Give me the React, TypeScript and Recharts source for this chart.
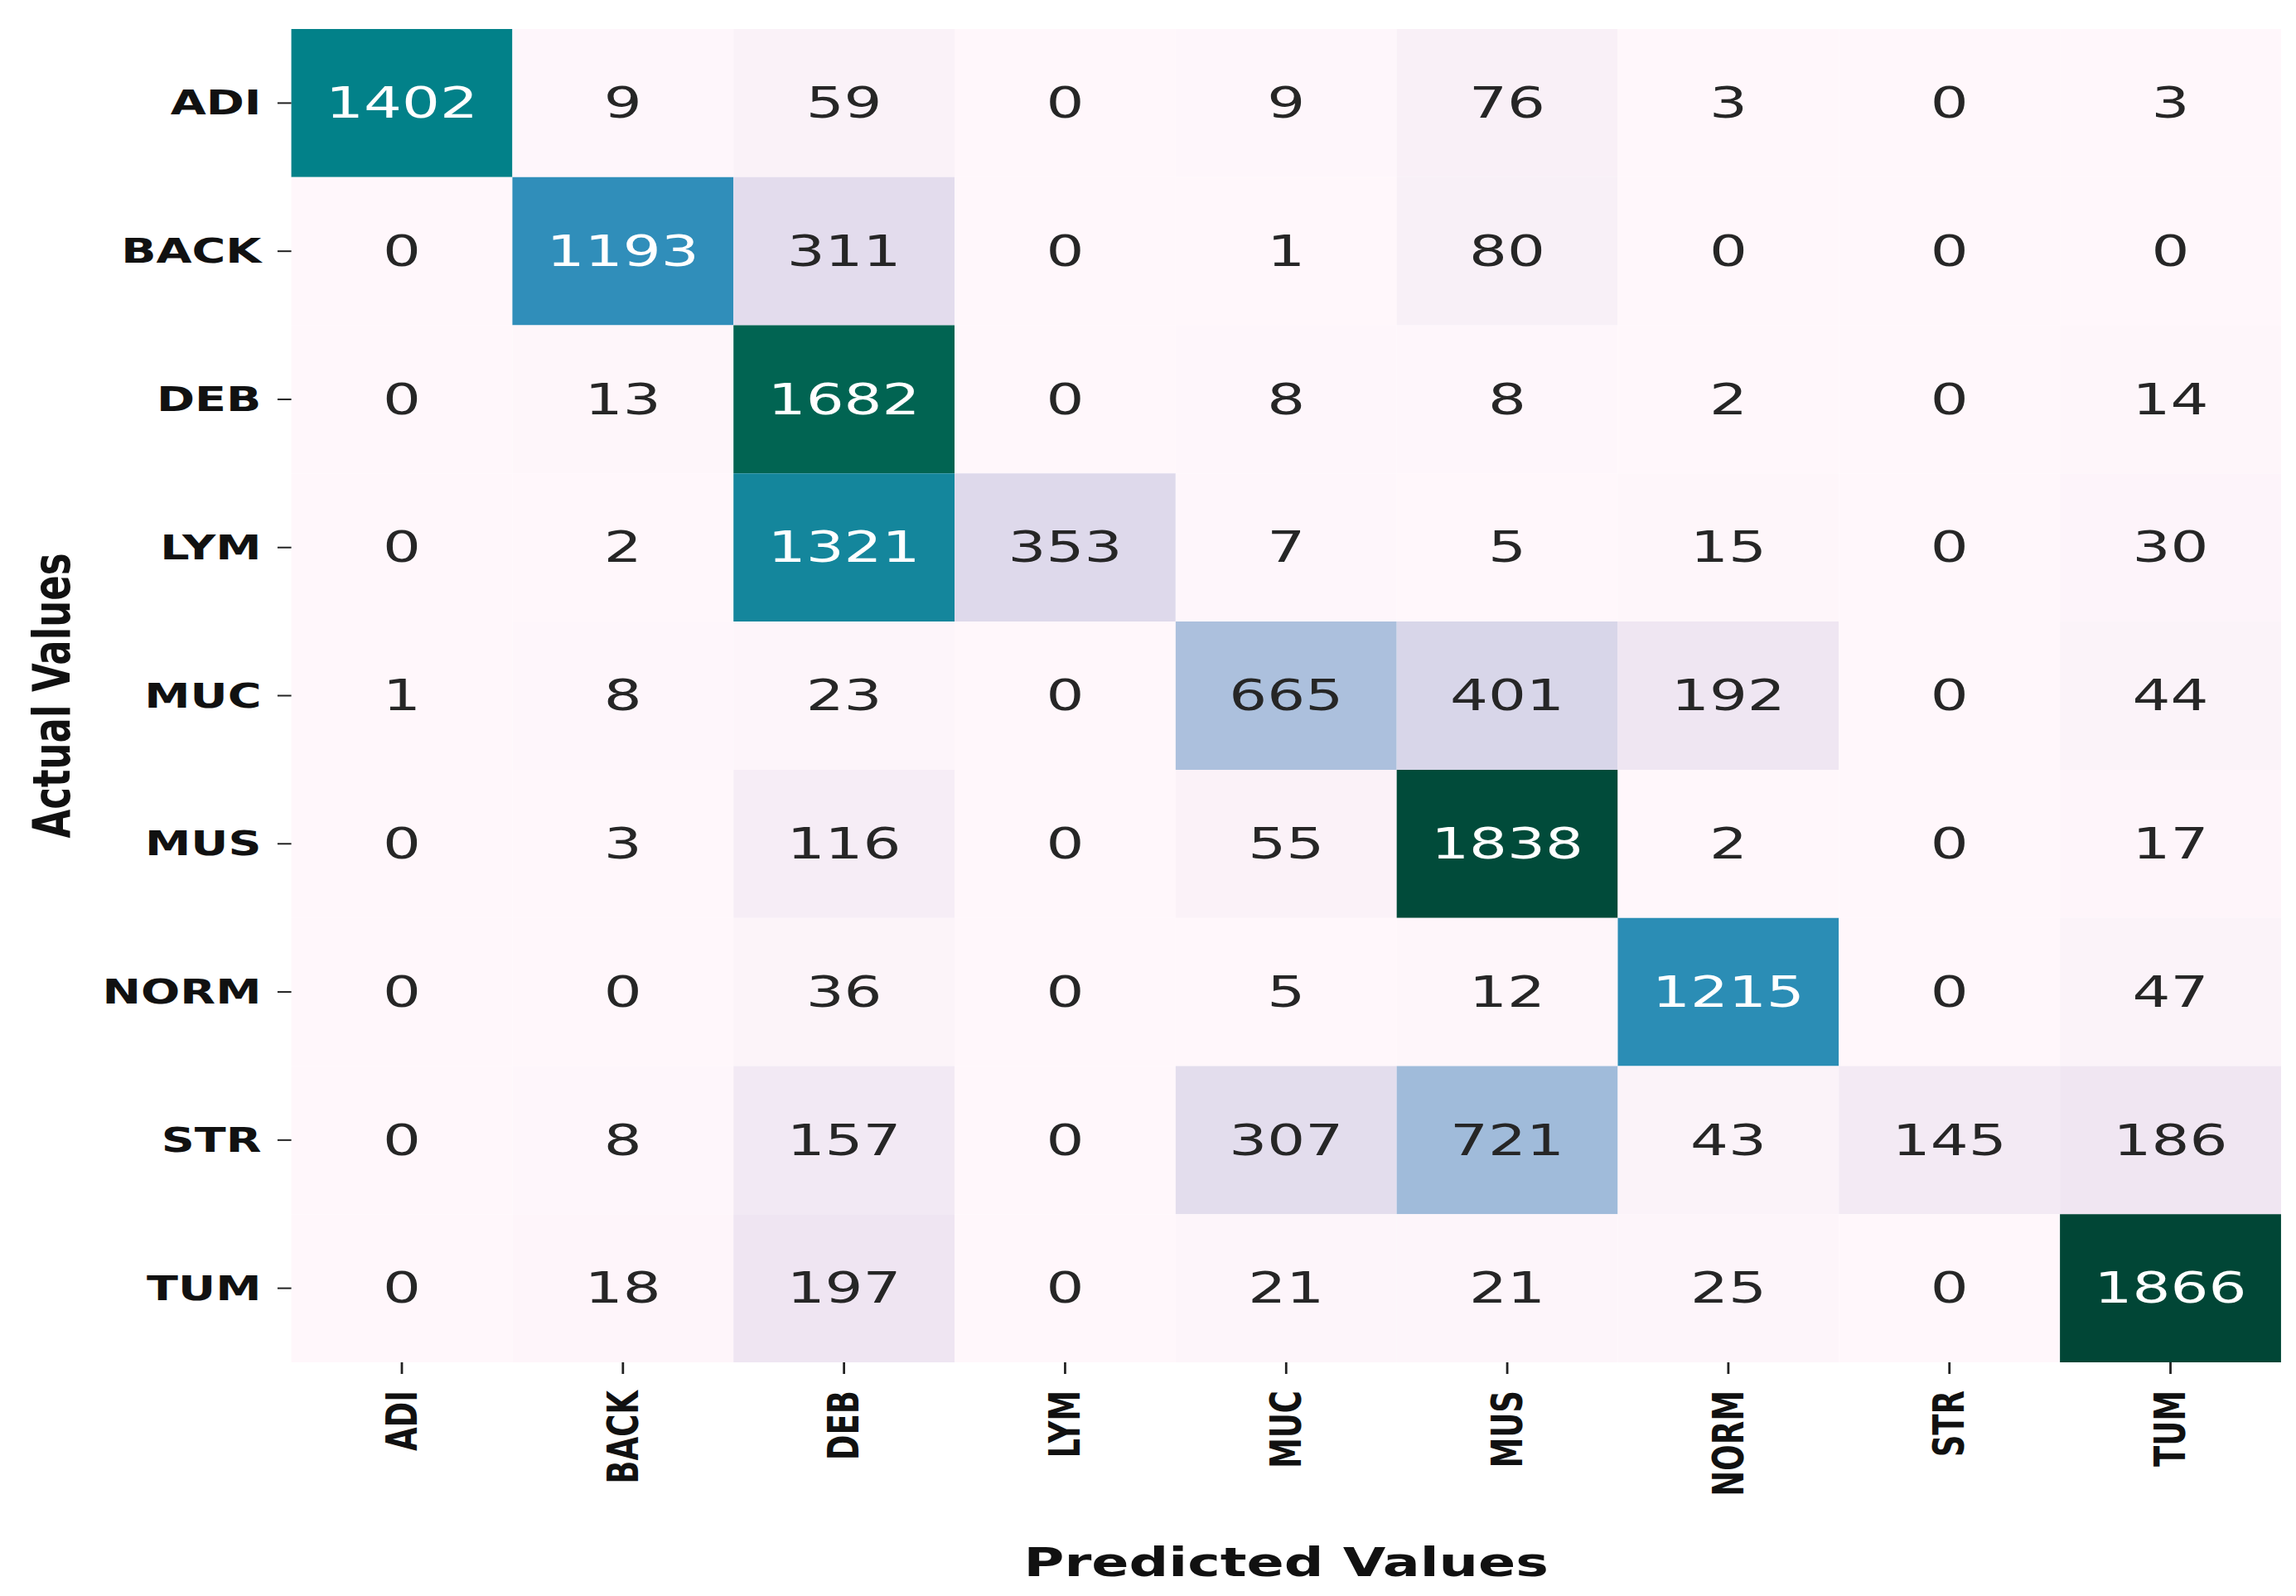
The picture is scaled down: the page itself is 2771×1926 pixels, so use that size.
import { BarChart, Bar, Cell, XAxis, YAxis, LabelList, Label } from "recharts";

// class names, rows = actual, columns = predicted
const classes = ["ADI", "BACK", "DEB", "LYM", "MUC", "MUS", "NORM", "STR", "TUM"];

const adiRow = [1402, 9, 59, 0, 9, 76, 3, 0, 3];
const backRow = [0, 1193, 311, 0, 1, 80, 0, 0, 0];
const debRow = [0, 13, 1682, 0, 8, 8, 2, 0, 14];
const lymRow = [0, 2, 1321, 353, 7, 5, 15, 0, 30];
const mucRow = [1, 8, 23, 0, 665, 401, 192, 0, 44];
const musRow = [0, 3, 116, 0, 55, 1838, 2, 0, 17];
const normRow = [0, 0, 36, 0, 5, 12, 1215, 0, 47];
const strRow = [0, 8, 157, 0, 307, 721, 43, 145, 186];
const tumRow = [0, 18, 197, 0, 21, 21, 25, 0, 1866];

const matrix = [adiRow, backRow, debRow, lymRow, mucRow, musRow, normRow, strRow, tumRow];

const rowTicks = [0.5, 1.5, 2.5, 3.5, 4.5, 5.5, 6.5, 7.5, 8.5];

// PuBuGn colormap stops
const pubugn = ["#fff7fb", "#ece2f0", "#d0d1e6", "#a6bddb", "#67a9cf", "#3690c0", "#02818a", "#016c59", "#014636"];

const vmax = Math.max(...matrix.flat());

function hexToRgb(h: string) {
  return [1, 3, 5].map((i) => parseInt(h.slice(i, i + 2), 16));
}

function colorRgb(v: number) {
  const t = Math.min(1, Math.max(0, v / vmax)) * (pubugn.length - 1);
  const i = Math.min(pubugn.length - 2, Math.floor(t));
  const f = t - i;
  const a = hexToRgb(pubugn[i]);
  const b = hexToRgb(pubugn[i + 1]);
  return a.map((c, k) => Math.round(c + (b[k] - c) * f));
}

function cellColor(v: number) {
  const [r, g, b] = colorRgb(v);
  return `rgb(${r},${g},${b})`;
}

function textColor(v: number) {
  const lin = colorRgb(v).map((c) => {
    const s = c / 255;
    return s <= 0.03928 ? s / 12.92 : Math.pow((s + 0.055) / 1.055, 2.4);
  });
  const lum = 0.2126 * lin[0] + 0.7152 * lin[1] + 0.0722 * lin[2];
  return lum > 0.408 ? "#262626" : "#ffffff";
}

// one entry per predicted class; each stacked segment is one actual-class cell
const data = classes.map((name) => {
  const d: Record<string, any> = { name };
  classes.forEach((_, j) => {
    d[`r${j}`] = 1;
  });
  return d;
});

const W = 1994;
const H = 1926;
const SX = 2771 / W;
const FONT = "'DejaVu Sans', sans-serif";

function XTick(props: any) {
  const { x, y, payload } = props;
  return (
    <text
      x={x}
      y={y}
      transform={`rotate(-90, ${x}, ${y})`}
      textAnchor="end"
      dominantBaseline="central"
      fontFamily={FONT}
      fontWeight="bold"
      fontSize={37}
      fill="#111"
    >
      {payload.value}
    </text>
  );
}

function YTick(props: any) {
  const { x, y, payload } = props;
  return (
    <text
      x={x}
      y={y}
      textAnchor="end"
      dominantBaseline="central"
      fontFamily={FONT}
      fontWeight="bold"
      fontSize={40}
      fill="#111"
    >
      {classes[Math.floor(payload.value)]}
    </text>
  );
}

function cellLabel(row: number) {
  return (props: any) => {
    const { x, y, width, height, index } = props;
    const v = matrix[row][index];
    return (
      <text
        x={x + width / 2}
        y={y + height / 2}
        textAnchor="middle"
        dominantBaseline="central"
        fontFamily={FONT}
        fontSize={52}
        fill={textColor(v)}
      >
        {v}
      </text>
    );
  };
}

export default function App() {
  return (
    <div
      style={{
        position: "absolute",
        left: 0,
        top: 0,
        width: W,
        height: H,
        background: "#fff",
        transform: `scaleX(${SX})`,
        transformOrigin: "left top",
      }}
    >
      <BarChart
        width={W}
        height={H}
        data={data}
        margin={{ top: 35, right: 13, left: 0, bottom: 0 }}
        barCategoryGap={0}
        barGap={0}
      >
        <XAxis
          dataKey="name"
          height={282}
          axisLine={false}
          tickSize={14}
          tickMargin={20}
          tickLine={{ stroke: "#222", strokeWidth: 2 }}
          tick={<XTick />}
          interval={0}
        >
          <Label
            content={(p: any) => {
              const vb = p.viewBox;
              return (
                <text
                  x={vb.x + vb.width / 2}
                  y={1885}
                  textAnchor="middle"
                  dominantBaseline="central"
                  fontFamily={FONT}
                  fontWeight="bold"
                  fontSize={48}
                  fill="#111"
                >
                  Predicted Values
                </text>
              );
            }}
          />
        </XAxis>
        <YAxis
          type="number"
          domain={[0, 9]}
          reversed
          ticks={rowTicks}
          width={253}
          axisLine={false}
          tickSize={12}
          tickMargin={14}
          tickLine={{ stroke: "#222", strokeWidth: 2 }}
          tick={<YTick />}
          interval={0}
          allowDataOverflow
        >
          <Label
            content={(p: any) => {
              const vb = p.viewBox;
              const cx = 45;
              const cy = vb.y + vb.height / 2;
              return (
                <text
                  x={cx}
                  y={cy}
                  transform={`rotate(-90, ${cx}, ${cy})`}
                  textAnchor="middle"
                  dominantBaseline="central"
                  fontFamily={FONT}
                  fontWeight="bold"
                  fontSize={45}
                  fill="#111"
                >
                  Actual Values
                </text>
              );
            }}
          />
        </YAxis>
        {classes.map((_, j) => (
          <Bar key={j} dataKey={`r${j}`} stackId="cm" isAnimationActive={false}>
            {classes.map((__, i) => (
              <Cell key={i} fill={cellColor(matrix[j][i])} />
            ))}
            <LabelList dataKey={`r${j}`} content={cellLabel(j)} />
          </Bar>
        ))}
      </BarChart>
    </div>
  );
}
